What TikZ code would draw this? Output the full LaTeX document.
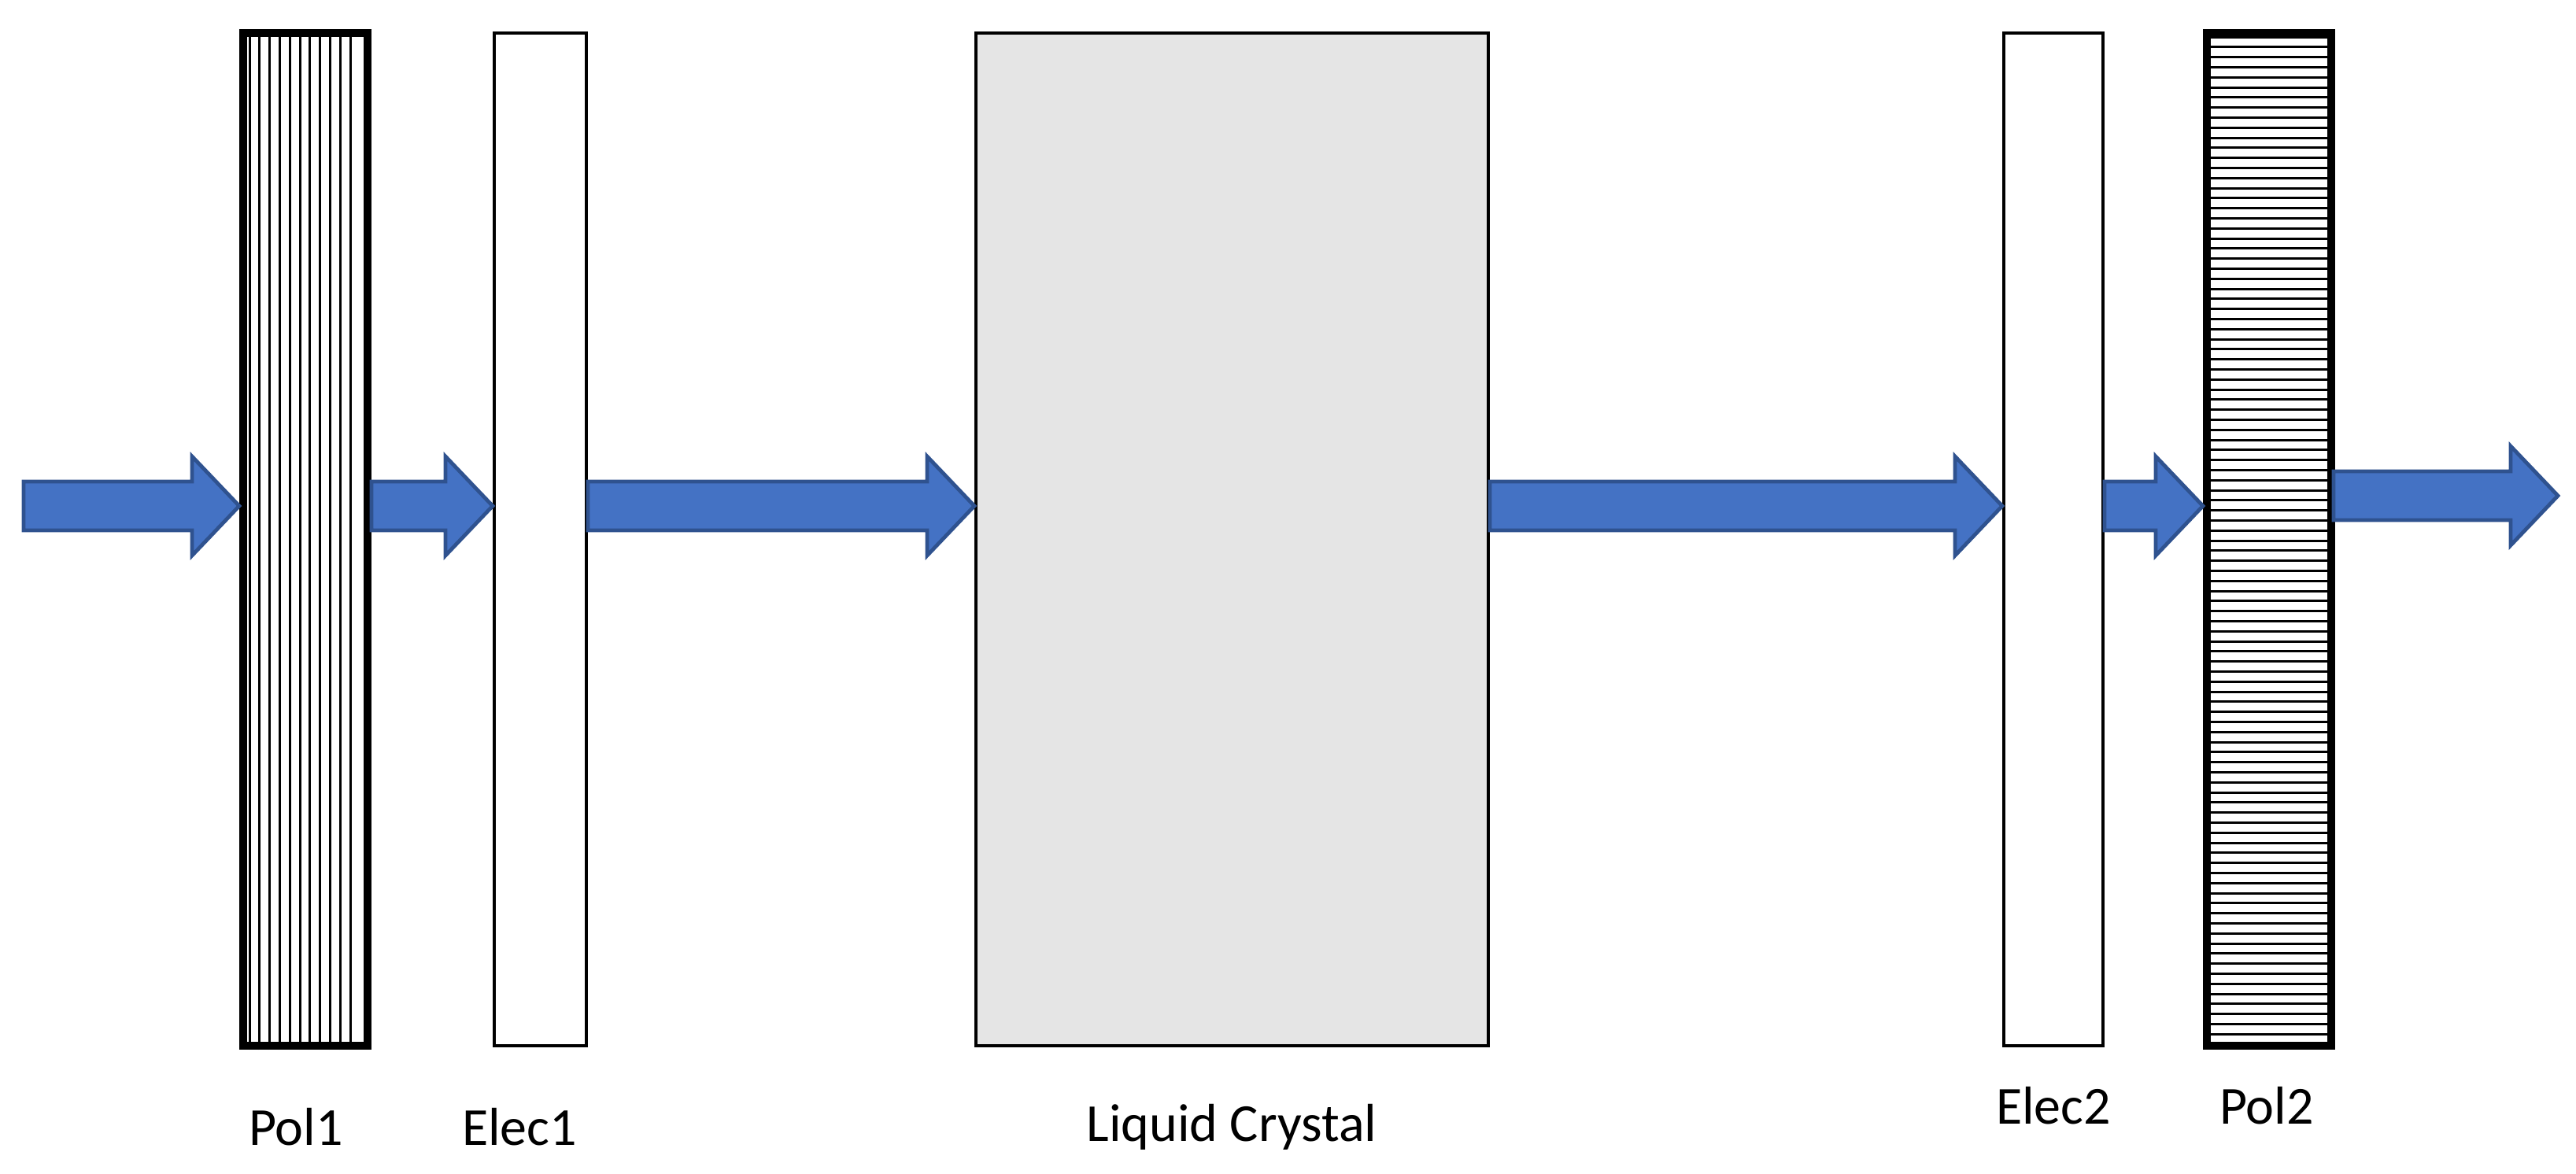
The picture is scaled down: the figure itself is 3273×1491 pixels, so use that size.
\documentclass[tikz,border=0pt]{standalone}
\usepackage{fontspec}
\setmainfont{Carlito}
\usetikzlibrary{calc}
\definecolor{arrowfill}{RGB}{68,114,196}
\definecolor{arrowdraw}{RGB}{47,82,143}
\tikzset{
    polar/.style={draw, line width=2.5pt, minimum width=39.5pt, minimum height=321.75pt, inner sep=0pt},
    elec/.style={draw, line width=1pt, fill=white, minimum width=#1, minimum height=321.75pt, inner sep=0pt},
    lcbox/.style={draw, line width=1pt, fill=black!10, minimum width=162.75pt, minimum height=321.75pt, inner sep=0pt},
    barrow/.style={draw=arrowdraw, fill=arrowfill, line width=1.2pt, line join=miter},
    lbl/.style={font=\fontsize{17}{20}\selectfont, anchor=center}
}
% block arrow: #1 = tail, #2 = tip (same y)
\newcommand{\blockarrow}[2]{
    \draw[barrow] let \p1=(#1), \p2=(#2) in
        (\x1,\y1+7.75pt) -- (\x2-15pt,\y1+7.75pt) -- (\x2-15pt,\y1+15.75pt) -- (\x2,\y1)
        -- (\x2-15pt,\y1-15.75pt) -- (\x2-15pt,\y1-7.75pt) -- (\x1,\y1-7.75pt) -- cycle;
}
\begin{document}
\begin{tikzpicture}[x=0.25pt, y=-0.25pt]
\useasboundingbox (0,0) rectangle (3273,1491);

% ==== Elements ====
\node[polar] (pol1) at (388,685.5) {};
\node[elec=29.25pt] (elec1) at (686.5,685.5) {};
\node[lcbox] (lc) at (1565.5,685.5) {};
\node[elec=31.5pt] (elec2) at (2609,685.5) {};
\node[polar] (pol2) at (2883,685.5) {};

% polarizer lines
\foreach \i in {0,...,10}
    \draw[line width=0.75pt] ($(pol1.south west)+(322-309+12.8*\i,0)$) -- ($(pol1.north west)+(322-309+12.8*\i,0)$);
\foreach \i in {0,...,99}
    \draw[line width=0.75pt] ($(pol2.north west)+(0,10+12.8*\i)$) -- ($(pol2.north east)+(0,10+12.8*\i)$);
\node[polar] at (pol1) {};
\node[polar] at (pol2) {};

% ==== Labels ====
\node[lbl] (lpol1) at (376,1432) {Pol1};
\node[lbl] (lelec1) at (660,1432) {Elec1};
\node[lbl] (llc) at (1565,1432) {Liquid Crystal};
\node[lbl] (lelec2) at (2609,1405) {Elec2};
\node[lbl] (lpol2) at (2880,1405) {Pol2};

% ==== Arrows ====
\coordinate (in0) at (30,643);
\coordinate (out0) at (2965,630);
\coordinate (out1) at (3250,630);
\blockarrow{in0}{pol1.west |- in0}
\blockarrow{pol1.east |- in0}{elec1.west |- in0}
\blockarrow{elec1.east |- in0}{lc.west |- in0}
\blockarrow{lc.east |- in0}{elec2.west |- in0}
\blockarrow{elec2.east |- in0}{pol2.west |- in0}
\blockarrow{out0}{out1}
\end{tikzpicture}
\end{document}
